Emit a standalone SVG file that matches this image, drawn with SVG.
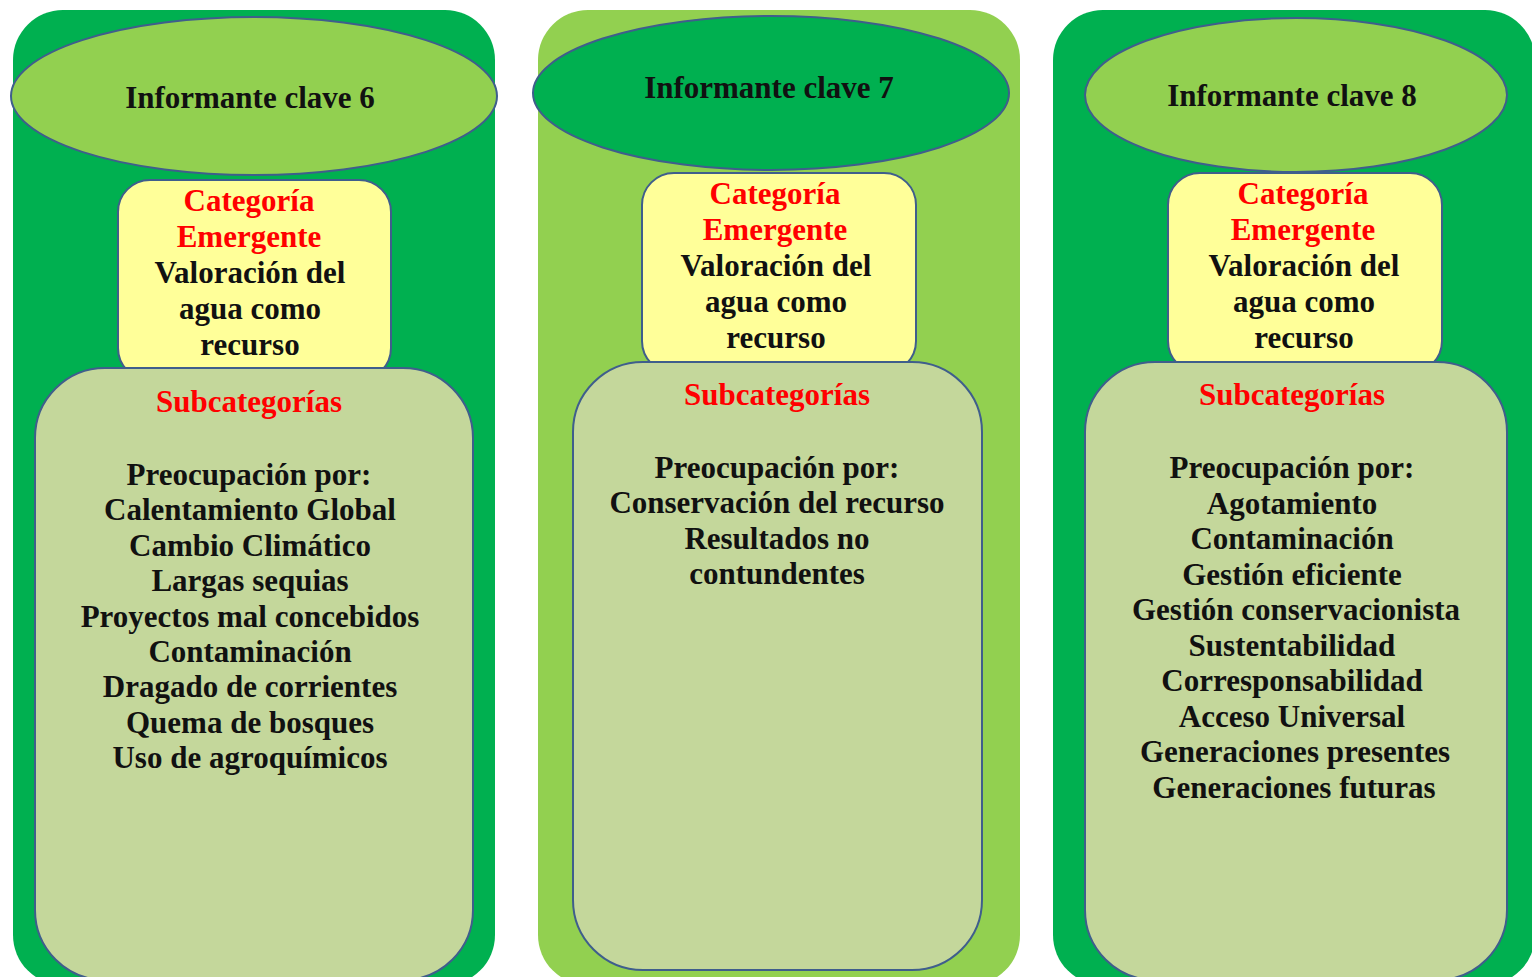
<svg xmlns="http://www.w3.org/2000/svg" width="1532" height="977" viewBox="0 0 1532 977">
<style>
.dk{fill:#00B050}
.lt{fill:#92D050}
.ln{stroke:#3F5E8C;stroke-width:2}
.yb{fill:#FFFF99}
.sb{fill:#C4D79B}
text{font-family:"Liberation Serif","Times New Roman",serif;font-size:31px;font-weight:bold;text-anchor:middle;fill:#111}
.r{fill:#FF0000}
</style>
<rect width="1532" height="977" fill="#FFFFFF"/>
<g id="informante6">
<rect class="dk" x="13" y="10" width="482" height="975" rx="50"/>
<ellipse class="lt ln" cx="254" cy="96" rx="243" ry="79"/>
<rect class="yb ln" x="118" y="180" width="273" height="200" rx="32"/>
<rect class="sb ln" x="35" y="368" width="438" height="612" rx="70"/>
<text x="250" y="108">Informante clave 6</text>
<text class="r" x="249" y="211">Categoría</text>
<text class="r" x="249" y="247">Emergente</text>
<text x="250" y="283">Valoración del</text>
<text x="250" y="319">agua como</text>
<text x="250" y="355">recurso</text>
<text class="r" x="249" y="412">Subcategorías</text>
<text x="249" y="485">Preocupación por:</text>
<text x="250" y="520.4">Calentamiento Global</text>
<text x="250" y="555.8">Cambio Climático</text>
<text x="250" y="591.2">Largas sequias</text>
<text x="250" y="626.6">Proyectos mal concebidos</text>
<text x="250" y="662">Contaminación</text>
<text x="250" y="697.4">Dragado de corrientes</text>
<text x="250" y="732.8">Quema de bosques</text>
<text x="250" y="768.2">Uso de agroquímicos</text>
</g>
<g id="informante7">
<rect class="lt" x="538" y="10" width="482" height="975" rx="50"/>
<ellipse class="dk ln" cx="771" cy="93" rx="238" ry="77"/>
<rect class="yb ln" x="642" y="173" width="274" height="200" rx="32"/>
<rect class="sb ln" x="573" y="362" width="409" height="608" rx="70"/>
<text x="769" y="98">Informante clave 7</text>
<text class="r" x="775" y="204">Categoría</text>
<text class="r" x="775" y="240">Emergente</text>
<text x="776" y="276">Valoración del</text>
<text x="776" y="312">agua como</text>
<text x="776" y="348">recurso</text>
<text class="r" x="777" y="405">Subcategorías</text>
<text x="777" y="478">Preocupación por:</text>
<text x="777" y="513.4">Conservación del recurso</text>
<text x="777" y="548.8">Resultados no</text>
<text x="777" y="584.2">contundentes</text>
</g>
<g id="informante8">
<rect class="dk" x="1053" y="10" width="482" height="975" rx="50"/>
<ellipse class="lt ln" cx="1296" cy="95" rx="211" ry="77"/>
<rect class="yb ln" x="1168" y="173" width="274" height="200" rx="32"/>
<rect class="sb ln" x="1085" y="362" width="422" height="618" rx="70"/>
<text x="1292" y="106">Informante clave 8</text>
<text class="r" x="1303" y="204">Categoría</text>
<text class="r" x="1303" y="240">Emergente</text>
<text x="1304" y="276">Valoración del</text>
<text x="1304" y="312">agua como</text>
<text x="1304" y="348">recurso</text>
<text class="r" x="1292" y="405">Subcategorías</text>
<text x="1292" y="478">Preocupación por:</text>
<text x="1292" y="513.5">Agotamiento</text>
<text x="1292" y="549">Contaminación</text>
<text x="1292" y="584.5">Gestión eficiente</text>
<text x="1296" y="620">Gestión conservacionista</text>
<text x="1292" y="655.5">Sustentabilidad</text>
<text x="1292" y="691">Corresponsabilidad</text>
<text x="1292" y="726.5">Acceso Universal</text>
<text x="1295" y="762">Generaciones presentes</text>
<text x="1294" y="797.5">Generaciones futuras</text>
</g>
<g id="connectors"/>
</svg>
